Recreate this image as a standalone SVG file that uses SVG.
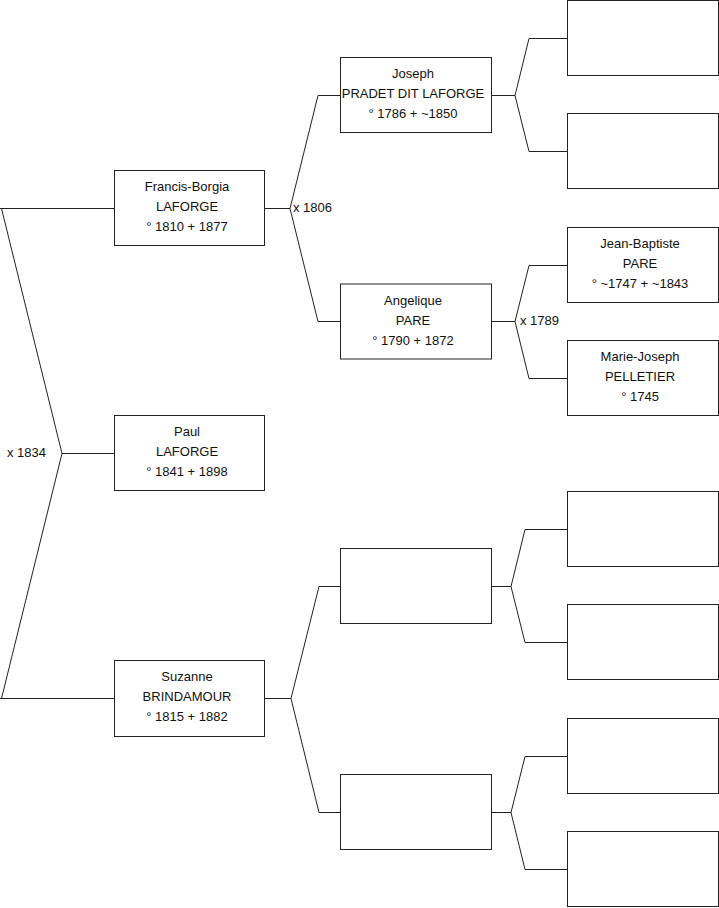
<svg xmlns="http://www.w3.org/2000/svg" width="719" height="908" viewBox="0 0 719 908">
<style>
.box{fill:#fff;stroke:#222;stroke-width:1}
.ln{fill:none;stroke:#222;stroke-width:1}
text{font-family:"Liberation Sans",Arial,sans-serif;font-size:13px;fill:#111}
.c{text-anchor:middle}
</style>
<rect width="719" height="908" fill="#fff"/>
<g id="connectors">
<polyline class="ln" points="0,208.5 114.5,208.5"/>
<polyline class="ln" points="1.5,208.5 62,453.5 1.5,698.5"/>
<polyline class="ln" points="0,698.5 114.5,698.5"/>
<polyline class="ln" points="62,453.5 114.5,453.5"/>
<text x="7" y="457">x 1834</text>
<polyline class="ln" points="264.5,208.5 290,208.5"/>
<polyline class="ln" points="340.5,95.5 318,95.5 290,208.5 318,321.5 340.5,321.5"/>
<text x="293" y="211.5">x 1806</text>
<polyline class="ln" points="264.5,698.5 291,698.5"/>
<polyline class="ln" points="340.5,586.5 319,586.5 291,698.5 319,812.5 340.5,812.5"/>
<polyline class="ln" points="491.5,95.5 515,95.5"/>
<polyline class="ln" points="567.5,38.5 529,38.5 515,95.5 529,151.5 567.5,151.5"/>
<polyline class="ln" points="491.5,321.5 515,321.5"/>
<polyline class="ln" points="567.5,265.5 529,265.5 515,321.5 529,378.5 567.5,378.5"/>
<text x="520" y="324.5">x 1789</text>
<polyline class="ln" points="491.5,586.5 511,586.5"/>
<polyline class="ln" points="567.5,529.5 525,529.5 511,586.5 525,642.5 567.5,642.5"/>
<polyline class="ln" points="491.5,812.5 511,812.5"/>
<polyline class="ln" points="567.5,756.5 525,756.5 511,812.5 525,869.5 567.5,869.5"/>
</g>
<g id="francis-borgia">
<rect class="box" x="114.5" y="170.5" width="150" height="75"/>
<text class="c" x="187" y="191">Francis-Borgia</text>
<text class="c" x="187" y="211">LAFORGE</text>
<text class="c" x="187" y="231">° 1810 + 1877</text>
</g>
<g id="paul">
<rect class="box" x="114.5" y="415.5" width="150" height="75"/>
<text class="c" x="187" y="436">Paul</text>
<text class="c" x="187" y="456">LAFORGE</text>
<text class="c" x="187" y="476">° 1841 + 1898</text>
</g>
<g id="suzanne">
<rect class="box" x="114.5" y="660.5" width="150" height="76"/>
<text class="c" x="187" y="681">Suzanne</text>
<text class="c" x="187" y="701">BRINDAMOUR</text>
<text class="c" x="187" y="721">° 1815 + 1882</text>
</g>
<g id="joseph">
<rect class="box" x="340.5" y="57.5" width="151" height="75"/>
<text class="c" x="413" y="78">Joseph</text>
<text class="c" x="413" y="98">PRADET DIT LAFORGE</text>
<text class="c" x="413" y="118">° 1786 + ~1850</text>
</g>
<g id="angelique">
<rect class="box" x="340.5" y="284" width="151" height="75"/>
<text class="c" x="413" y="304.5">Angelique</text>
<text class="c" x="413" y="324.5">PARE</text>
<text class="c" x="413" y="344.5">° 1790 + 1872</text>
</g>
<g id="blank-father-suzanne">
<rect class="box" x="340.5" y="548.5" width="151" height="75"/>
</g>
<g id="blank-mother-suzanne">
<rect class="box" x="340.5" y="774.5" width="151" height="75"/>
</g>
<g id="blank-1">
<rect class="box" x="567.5" y="0.5" width="151" height="75"/>
</g>
<g id="blank-2">
<rect class="box" x="567.5" y="113.5" width="151" height="75"/>
</g>
<g id="jean-baptiste">
<rect class="box" x="567.5" y="227.5" width="151" height="75"/>
<text class="c" x="640" y="248">Jean-Baptiste</text>
<text class="c" x="640" y="268">PARE</text>
<text class="c" x="640" y="288">° ~1747 + ~1843</text>
</g>
<g id="marie-joseph">
<rect class="box" x="567.5" y="340.5" width="151" height="75"/>
<text class="c" x="640" y="361">Marie-Joseph</text>
<text class="c" x="640" y="381">PELLETIER</text>
<text class="c" x="640" y="401">° 1745</text>
</g>
<g id="blank-3">
<rect class="box" x="567.5" y="491.5" width="151" height="75"/>
</g>
<g id="blank-4">
<rect class="box" x="567.5" y="604.5" width="151" height="75"/>
</g>
<g id="blank-5">
<rect class="box" x="567.5" y="718.5" width="151" height="75"/>
</g>
<g id="blank-6">
<rect class="box" x="567.5" y="831.5" width="151" height="75"/>
</g>
</svg>
